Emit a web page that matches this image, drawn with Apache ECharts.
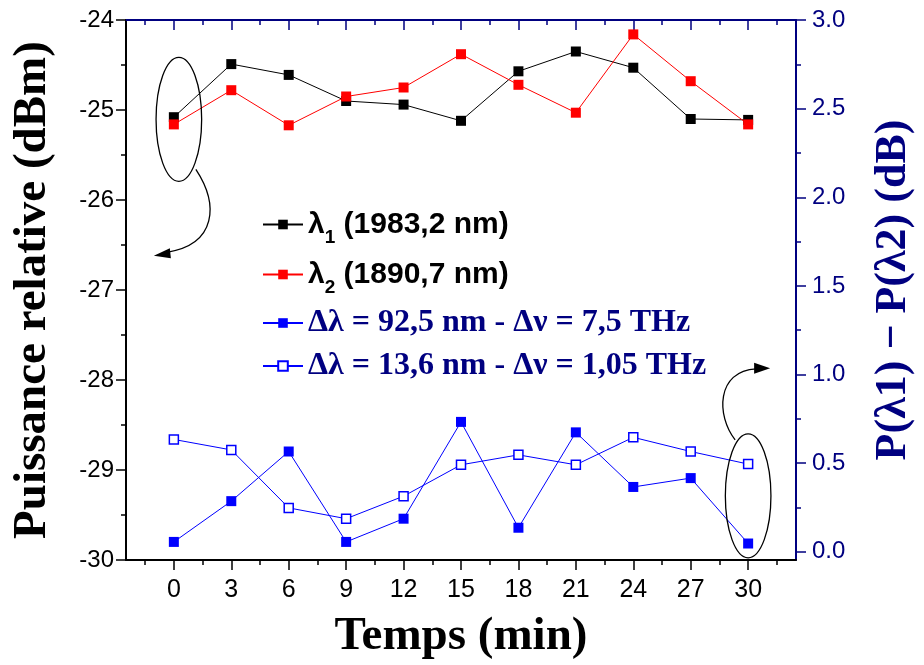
<!DOCTYPE html>
<html><head><meta charset="utf-8">
<script src="https://cdn.jsdelivr.net/npm/echarts@6/dist/echarts.min.js"></script>
<style>html,body{margin:0;padding:0;background:#fff}#c{width:924px;height:665px}</style>
</head><body><div id="c"></div>
<script>
// ---- data ----
const times = [0, 3, 6, 9, 12, 15, 18, 21, 24, 27, 30];
const lambda1 = [-25.08, -24.49, -24.61, -24.90, -24.94, -25.12, -24.57, -24.35, -24.53, -25.10, -25.11];
const lambda2 = [-25.16, -24.78, -25.17, -24.85, -24.75, -24.38, -24.72, -25.03, -24.16, -24.68, -25.16];
const diff925 = [0.056, 0.286, 0.566, 0.056, 0.187, 0.733, 0.136, 0.674, 0.366, 0.416, 0.047];
const diff136 = [0.634, 0.575, 0.248, 0.187, 0.314, 0.491, 0.547, 0.491, 0.646, 0.566, 0.495];
const xMajorTicks = [0, 3, 6, 9, 12, 15, 18, 21, 24, 27, 30];
const xMinorTicks = [-1.5, 1.5, 4.5, 7.5, 10.5, 13.5, 16.5, 19.5, 22.5, 25.5, 28.5, 31.5];
const yRightMajorTicks = [0, 0.5, 1.0, 1.5, 2.0, 2.5, 3.0];
const yRightMinorTicks = [0.25, 0.75, 1.25, 1.75, 2.25, 2.75];

const NAVY = '#000080';
const SANS = "'Liberation Sans', Arial, sans-serif";
const NARROW = "'Liberation Sans Narrow', 'Arial Narrow', 'Liberation Sans', sans-serif";
const SERIF = "'Liberation Serif', 'Times New Roman', serif";

const zip = (xs, ys) => xs.map((x, i) => [x, ys[i]]);

const chart = echarts.init(document.getElementById('c'), null, {renderer: 'canvas'});

function legendComp(name, top, fmt, rich) {
  return {
    data: [name], left: 262, top: top, orient: 'vertical',
    itemWidth: 40, itemHeight: 12, itemGap: 0, padding: 0,
    selectedMode: false, formatter: () => fmt,
    textStyle: {rich: rich}
  };
}
const richSans = {
  a: {fontFamily: SANS, fontWeight: 'bold', fontSize: 30, color: '#000', lineHeight: 34},
  s: {fontFamily: SANS, fontWeight: 'bold', fontSize: 19, color: '#000', lineHeight: 19, padding: [26, 0, 0, 0]}
};
const richSerif = {
  a: {fontFamily: SERIF, fontWeight: 'bold', fontSize: 32, color: NAVY, lineHeight: 34}
};

const option = {
  animation: false,
  backgroundColor: '#fff',
  grid: {left: 126, right: 123, top: 20, bottom: 100, containLabel: false},
  legend: [
    legendComp('l1', 202, '{a|λ}{s|1}{a| (1983,2 nm)}', richSans),
    legendComp('l2', 252, '{a|λ}{s|2}{a| (1890,7 nm)}', richSans),
    legendComp('d925', 307, '{a|Δλ = 92,5 nm - Δν = 7,5 THz}', richSerif),
    legendComp('d136', 350, '{a|Δλ = 13,6 nm - Δν = 1,05 THz}', richSerif)
  ],
  xAxis: [
    {type: 'value', min: -2.5, max: 32.5, position: 'bottom',
     axisLine: {show: true, onZero: false, lineStyle: {color: '#000', width: 2}},
     axisTick: {show: true, inside: false, length: 10, customValues: xMajorTicks, lineStyle: {color: '#000', width: 1.5}},
     axisLabel: {show: true, customValues: xMajorTicks, margin: 18, fontFamily: NARROW, fontSize: 25, color: '#000'},
     splitLine: {show: false},
     name: 'Temps (min)', nameLocation: 'middle', nameGap: 53,
     nameTextStyle: {fontFamily: SERIF, fontWeight: 'bold', fontSize: 47, color: '#000'}},
    {type: 'value', min: -2.5, max: 32.5, position: 'bottom',
     axisLine: {show: false, onZero: false},
     axisTick: {show: true, inside: false, length: 5, customValues: xMinorTicks, lineStyle: {color: '#000', width: 1.5}},
     axisLabel: {show: false}, splitLine: {show: false}},
    {type: 'value', min: -2.5, max: 32.5, position: 'top',
     axisLine: {show: true, onZero: false, lineStyle: {color: NAVY, width: 2}},
     axisTick: {show: true, inside: true, length: 10, customValues: xMajorTicks, lineStyle: {color: NAVY, width: 1.5}},
     axisLabel: {show: false}, splitLine: {show: false}},
    {type: 'value', min: -2.5, max: 32.5, position: 'top',
     axisLine: {show: false, onZero: false},
     axisTick: {show: true, inside: true, length: 5, customValues: xMinorTicks, lineStyle: {color: NAVY, width: 1.5}},
     axisLabel: {show: false}, splitLine: {show: false}}
  ],
  yAxis: [
    {type: 'value', min: -30, max: -24, interval: 1, position: 'left',
     axisLine: {show: true, onZero: false, lineStyle: {color: '#000', width: 2}},
     axisTick: {show: true, inside: false, length: 10, lineStyle: {color: '#000', width: 1.5}},
     minorTick: {show: true, splitNumber: 2, length: 5, lineStyle: {color: '#000', width: 1.5}},
     axisLabel: {margin: 12, fontFamily: SANS, fontSize: 24, color: '#000'},
     splitLine: {show: false}, minorSplitLine: {show: false},
     name: 'Puissance relative (dBm)', nameLocation: 'middle', nameGap: 70, nameRotate: 90,
     nameTextStyle: {fontFamily: SERIF, fontWeight: 'bold', fontSize: 47, color: '#000'}},
    {type: 'value', min: -0.046, max: 3.0, position: 'right',
     axisLine: {show: true, onZero: false, lineStyle: {color: NAVY, width: 2}},
     axisTick: {show: true, inside: false, length: 10, customValues: yRightMajorTicks, lineStyle: {color: NAVY, width: 1.5}},
     axisLabel: {show: true, customValues: yRightMajorTicks, margin: 16, fontFamily: SANS, fontSize: 24, color: NAVY,
                 formatter: v => Number(v).toFixed(1)},
     splitLine: {show: false},
     name: 'P(λ1) − P(λ2) (dB)', nameLocation: 'middle', nameGap: 76, nameRotate: 90,
     nameTextStyle: {fontFamily: SERIF, fontWeight: 'bold', fontSize: 44, color: NAVY}},
    {type: 'value', min: -0.046, max: 3.0, position: 'right',
     axisLine: {show: false, onZero: false},
     axisTick: {show: true, inside: false, length: 5, customValues: yRightMinorTicks, lineStyle: {color: NAVY, width: 1.5}},
     axisLabel: {show: false}, splitLine: {show: false}}
  ],
  series: [
    {name: 'l1', type: 'line', xAxisIndex: 0, yAxisIndex: 0, data: zip(times, lambda1),
     symbol: 'rect', symbolSize: 10, lineStyle: {color: '#000', width: 1}, itemStyle: {color: '#000'}},
    {name: 'l2', type: 'line', xAxisIndex: 0, yAxisIndex: 0, data: zip(times, lambda2),
     symbol: 'rect', symbolSize: 10, lineStyle: {color: '#ff0000', width: 1}, itemStyle: {color: '#ff0000'}},
    {name: 'd925', type: 'line', xAxisIndex: 0, yAxisIndex: 1, data: zip(times, diff925),
     symbol: 'rect', symbolSize: 10, lineStyle: {color: '#0000ff', width: 1}, itemStyle: {color: '#0000ff'}},
    {name: 'd136', type: 'line', xAxisIndex: 0, yAxisIndex: 1, data: zip(times, diff136),
     symbol: 'rect', symbolSize: 9, lineStyle: {color: '#0000ff', width: 1},
     itemStyle: {color: '#ffffff', borderColor: '#0000ff', borderWidth: 1.5}}
  ]
};
chart.setOption(option);

// ---- annotations (ellipses + curved arrows) anchored on data points ----
const p0 = chart.convertToPixel({xAxisIndex: 0, yAxisIndex: 0}, [times[0], (lambda1[0] + lambda2[0]) / 2]);
const p30 = chart.convertToPixel({xAxisIndex: 0, yAxisIndex: 1}, [times[10], (diff925[10] + diff136[10]) / 2]);
const e1 = {cx: p0[0] + 5, cy: p0[1] - 1.5};
const e2 = {cx: p30[0], cy: p30[1] - 8};
chart.setOption({
  graphic: [
    {type: 'ellipse', shape: {cx: e1.cx, cy: e1.cy, rx: 22.8, ry: 62}, style: {fill: null, stroke: '#000', lineWidth: 1.3}, z: 10},
    {type: 'bezierCurve', shape: {x1: e1.cx + 17, y1: e1.cy + 50, cpx1: e1.cx + 40, cpy1: e1.cy + 85, cpx2: e1.cx + 38, cpy2: e1.cy + 125, x2: e1.cx - 12, y2: e1.cy + 133},
     style: {fill: null, stroke: '#000', lineWidth: 1.3}, z: 10},
    {type: 'polygon', shape: {points: [[e1.cx - 25, e1.cy + 136.5], [e1.cx - 9, e1.cy + 129], [e1.cx - 8, e1.cy + 139]]}, style: {fill: '#000'}, z: 10},
    {type: 'ellipse', shape: {cx: e2.cx, cy: e2.cy, rx: 22.8, ry: 62}, style: {fill: null, stroke: '#000', lineWidth: 1.3}, z: 10},
    {type: 'bezierCurve', shape: {x1: e2.cx - 13, y1: e2.cy - 56, cpx1: e2.cx - 32, cpy1: e2.cy - 80, cpx2: e2.cx - 32, cpy2: e2.cy - 125, x2: e2.cx + 8, y2: e2.cy - 127},
     style: {fill: null, stroke: '#000', lineWidth: 1.3}, z: 10},
    {type: 'polygon', shape: {points: [[e2.cx + 22, e2.cy - 127.5], [e2.cx + 6, e2.cy - 133], [e2.cx + 6, e2.cy - 122]]}, style: {fill: '#000'}, z: 10}
  ]
});
</script>
</body></html>
